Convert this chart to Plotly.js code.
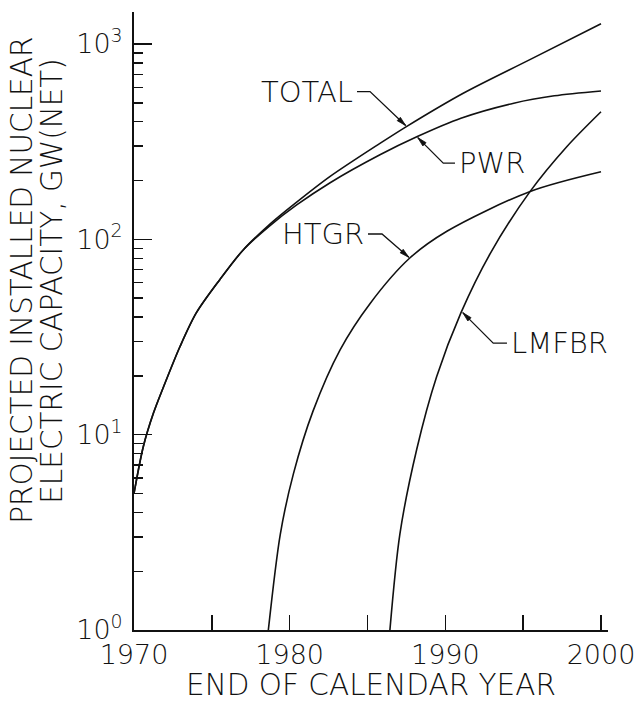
<!DOCTYPE html>
<html>
<head>
<meta charset="utf-8">
<script src="https://cdn.plot.ly/plotly-3.0.1.min.js"></script>
<style>
  html, body { margin: 0; padding: 0; background: #fff; }
  #chart { width: 639px; height: 703px; }
</style>
</head>
<body>
<div id="chart"></div>
<script>
// Projected installed nuclear capacity, GW(net), by end of calendar year
const TOTAL_YEARS = [1970.0, 1970.6, 1971.25, 1971.9, 1972.95, 1974.0, 1975.5, 1977.0, 1978.7, 1980.45, 1982.6, 1985.8, 1987.5, 1991.15, 1995.4, 2000.0];
const TOTAL_GW    = [5.0, 8.7, 12.9, 17.6, 28.2, 42, 62, 88, 119, 155, 210, 310, 378, 560, 830, 1270];

const PWR_YEARS = [1970.0, 1970.6, 1971.25, 1971.9, 1972.95, 1974.0, 1975.5, 1977.0, 1978.7, 1980.45, 1982.6, 1985.8, 1988.2, 1991.0, 1994.4, 1997.0, 2000.0];
const PWR_GW    = [5.0, 8.7, 12.9, 17.6, 28.2, 42, 62, 88, 117, 150, 195, 271, 336, 417, 498, 543, 575];

const HTGR_YEARS = [1978.63, 1979.4, 1980.24, 1981.5, 1983.24, 1985.17, 1987.7, 1990.1, 1995.45, 2000.0];
const HTGR_GW    = [1.0, 3.1, 6.3, 13.2, 27.2, 47, 80, 110, 176, 222];

const LMFBR_YEARS = [1986.44, 1987.08, 1988.16, 1989.44, 1991.0, 1992.9, 1995.45, 1997.8, 2000.0];
const LMFBR_GW    = [1.0, 3.1, 8.4, 19.8, 42, 85, 176, 298, 450];

const DECADE_TICKS = [1, 10, 100, 1000];
const DECADE_LABELS = ['10<sup>0</sup>', '10<sup>1</sup>', '10<sup>2</sup>', '10<sup>3</sup>'];

// minor ticks at 2..9 within each decade
const MINOR_TICKS = [];
[1, 10, 100].forEach(d => { for (let k = 2; k <= 9; k++) MINOR_TICKS.push(k * d); });

const Y_TOP = 3.164;   // log10 of the top of the value axis
const FONT = { family: '"DejaVu Sans", Roboto, sans-serif', color: '#111', weight: 200 };
const INK = '#111';

function curve(x, y, name) {
  return {
    x: x, y: y, name: name, type: 'scatter', mode: 'lines',
    line: { color: INK, width: 1.6, shape: 'spline', smoothing: 0.85 },
    hoverinfo: 'skip'
  };
}

const traces = [
  curve(TOTAL_YEARS, TOTAL_GW, 'TOTAL'),
  curve(PWR_YEARS, PWR_GW, 'PWR'),
  curve(HTGR_YEARS, HTGR_GW, 'HTGR'),
  curve(LMFBR_YEARS, LMFBR_GW, 'LMFBR')
];

// callouts: label, the point on the curve it names, and the leader geometry
// in screen pixels relative to that point (elbow, end of the short tail)
const CALLOUTS = [
  { label: 'TOTAL', year: 1987.52, gw: 378,  elbow: [-36.7, -35], tail: [-49.7, -35], side: 'left' },
  { label: 'PWR',   year: 1988.16, gw: 336,  elbow: [26.6, 26.6],  tail: [38.3, 26.6],  side: 'right' },
  { label: 'HTGR',  year: 1987.73, gw: 80,   elbow: [-28, -24.3],  tail: [-42, -24.3],  side: 'left' },
  { label: 'LMFBR', year: 1991.05, gw: 42.7, elbow: [31.6, 31.6],  tail: [45.3, 31.6],  side: 'right' }
];

const shapes = [];
const annotations = [];
CALLOUTS.forEach(c => {
  const anchor = {
    xref: 'x', yref: 'paper', xsizemode: 'pixel', ysizemode: 'pixel',
    xanchor: c.year, yanchor: Math.log10(c.gw) / Y_TOP
  };
  // pixel paths have y pointing up
  const P = (x, y) => `${x.toFixed(2)},${(-y).toFixed(2)}`;
  const [ex, ey] = c.elbow, [tx, ty] = c.tail;
  const len = Math.hypot(ex, ey), ux = ex / len, uy = ey / len;
  shapes.push(Object.assign({
    type: 'path', path: `M${P(tx, ty)} L${P(ex, ey)} L${P(ux * 1.5, uy * 1.5)}`,
    line: { color: INK, width: 1.3 }
  }, anchor));
  // slim filled arrowhead just short of the curve
  const a0 = 1.5, a1 = 11, hw = 2.3, nx = -uy, ny = ux;
  shapes.push(Object.assign({
    type: 'path',
    path: `M${P(ux * a0, uy * a0)} L${P(ux * a1 + nx * hw, uy * a1 + ny * hw)} L${P(ux * a1 - nx * hw, uy * a1 - ny * hw)} Z`,
    line: { color: INK, width: 0.8 }, fillcolor: INK
  }, anchor));
  annotations.push({
    x: c.year, y: Math.log10(c.gw), xref: 'x', yref: 'y',
    text: c.label, showarrow: false,
    xanchor: c.side === 'left' ? 'right' : 'left', yanchor: 'middle',
    xshift: tx + (c.side === 'left' ? -2 : 2), yshift: -ty,
    font: Object.assign({}, FONT, { size: 29 })
  });
});

// horizontal axis caption
annotations.push({
  xref: 'paper', yref: 'paper', x: 0.5, y: 0, yshift: -55,
  text: 'END OF CALENDAR YEAR', showarrow: false, borderpad: 0,
  xanchor: 'center', yanchor: 'middle', font: Object.assign({}, FONT, { size: 29.5 })
});

// two-line vertical axis caption
annotations.push({
  xref: 'paper', yref: 'paper', x: 0, y: 0.565, xshift: -112,
  text: 'PROJECTED INSTALLED NUCLEAR', textangle: -90, showarrow: false,
  xanchor: 'center', yanchor: 'middle', font: Object.assign({}, FONT, { size: 29.5 })
});
annotations.push({
  xref: 'paper', yref: 'paper', x: 0, y: 0.565, xshift: -82,
  text: 'ELECTRIC CAPACITY, GW(NET)', textangle: -90, showarrow: false,
  xanchor: 'center', yanchor: 'middle', font: Object.assign({}, FONT, { size: 29.5 })
});

const layout = {
  width: 639, height: 703,
  margin: { l: 134, r: 31, t: 12, b: 73 },
  paper_bgcolor: '#fff', plot_bgcolor: '#fff',
  showlegend: false, hovermode: false,
  font: FONT,
  xaxis: {
    range: [1970, 2000.45], showgrid: false, zeroline: false,
    showline: true, linecolor: INK, linewidth: 2,
    tickmode: 'linear', tick0: 1970, dtick: 10,
    ticks: 'inside', ticklen: 15, tickwidth: 1.6, tickcolor: INK,
    minor: { tickmode: 'linear', tick0: 1970, dtick: 5, ticks: 'inside', ticklen: 15, tickwidth: 1.6, tickcolor: INK, showgrid: false },
    tickfont: Object.assign({}, FONT, { size: 27 }),
    automargin: false
  },
  yaxis: {
    type: 'log', range: [0, Y_TOP], showgrid: false, zeroline: false,
    showline: true, linecolor: INK, linewidth: 2,
    tickmode: 'array', tickvals: DECADE_TICKS, ticktext: DECADE_LABELS,
    ticks: 'inside', ticklen: 18, tickwidth: 1.6, tickcolor: INK,
    minor: { tickmode: 'array', tickvals: MINOR_TICKS, ticks: 'inside', ticklen: 9, tickwidth: 1.4, tickcolor: INK, showgrid: false },
    tickfont: Object.assign({}, FONT, { size: 27 }),
    ticklabelstandoff: 4,
    automargin: false
  },
  shapes: shapes,
  annotations: annotations
};

Plotly.newPlot('chart', traces, layout, { displayModeBar: false, staticPlot: true });
</script>
</body>
</html>
